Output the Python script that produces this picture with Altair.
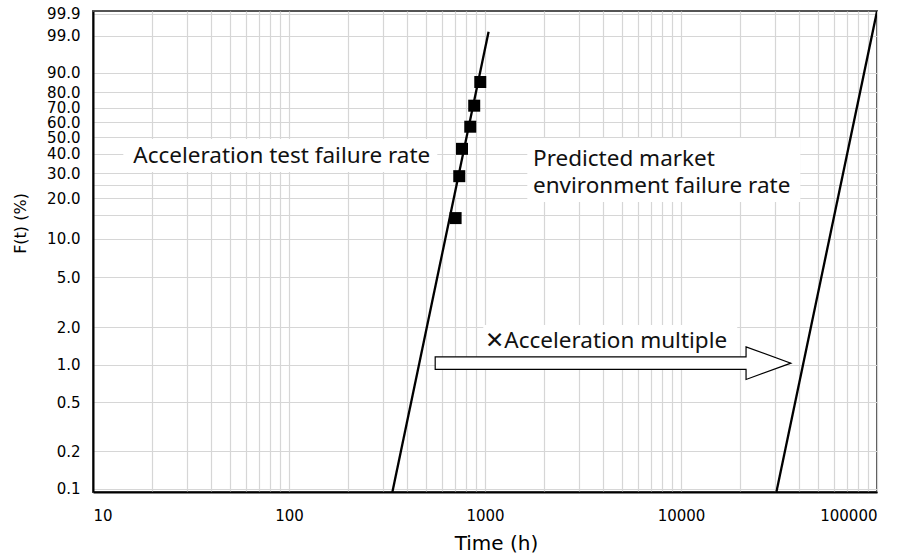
import altair as alt
import numpy as np
import pandas as pd

# Accelerated-test failures: hours to failure and median-rank cumulative failure (%)
test_hours = [708, 739, 763, 841, 881, 946]
test_cum_fail = [14.3, 28.6, 42.9, 57.1, 71.4, 85.7]

# Fitted Weibull lines, given by their end points (hours, cumulative %)
fit_series = ["test", "test", "market", "market"]
fit_hours = [335, 1043, 30500, 100000]
fit_cum_fail = [0.09, 99.3, 0.09, 99.93]

# Axis grid / labels
x_grid = [m * 10 ** k for k in range(1, 5) for m in range(1, 10)] + [100000]
x_labelled = [10, 100, 1000, 10000, 100000]
y_grid = [0.1, 0.2, 0.5, 1, 2, 5, 10, 15, 20, 25, 30, 40, 50, 60, 70, 80, 90, 99, 99.9]

# Annotation texts
note_text = ["Acceleration test failure rate", "Predicted market",
             "environment failure rate", "\u2715Acceleration multiple"]


def weibull_y(pct):
    """Weibull probability-paper ordinate: ln(-ln(1 - F))."""
    p = np.asarray(pct, dtype=float) / 100.0
    return np.log(-np.log(1.0 - p))


pts = pd.DataFrame({"hours": test_hours, "w": weibull_y(test_cum_fail)})
fits = pd.DataFrame({"series": fit_series, "hours": fit_hours,
                     "w": weibull_y(fit_cum_fail)})

# text anchors (hours, %)
notes = pd.DataFrame({
    "label": note_text,
    "hours": [16.05, 1758, 1758, 1003],
    "w": weibull_y([39.0, 37.3, 24.6, 1.55]),
})

# white panels behind the annotation texts (hours / % corners)
panels = pd.DataFrame({
    "hours": [14.28, 1644, 980],
    "hours2": [571, 40620, 19360],
    "w": weibull_y([49.0, 49.6, 2.085]),
    "w2": weibull_y([30.5, 18.8, 1.148]),
})

# arrow glyph centred on (hours, %)
arrow = pd.DataFrame({"hours": [4500], "w": weibull_y([1.03])})
arrow_path = ("M -1 -0.0354 L 0.748 -0.0354 L 0.748 -0.0917 L 1 0 "
              "L 0.748 0.0917 L 0.748 0.0354 L -1 0.0354 Z")

pct_expr = "100*(1-exp(-exp(datum.value)))"
y_label_expr = (f"(abs({pct_expr}-15)<0.05 || abs({pct_expr}-25)<0.05) ? '' : "
                f"format({pct_expr}, '.1f')")
x_label_expr = " || ".join(f"datum.value == {v}" for v in x_labelled) + \
    " ? format(datum.value, 'd') : ''"

x_enc = alt.X(
    "hours:Q",
    scale=alt.Scale(type="log", domain=[10, 100000], nice=False),
    axis=alt.Axis(
        values=x_grid, labelExpr=x_label_expr, labelOverlap=False,
        title="Time (h)", titleFont="DejaVu Sans", titleFontSize=20,
        titleFontWeight="normal", titleColor="black",
        titleX=403, titleY=51, titleBaseline="middle", titleAlign="center",
        labelFont="DejaVu Sans", labelFontSize=15, labelColor="black",
        labelPadding=16, ticks=False, tickSize=0,
        domainColor="black", domainWidth=2,
        grid=True, gridColor="#d6d6d6", gridWidth=1.2,
    ),
)
x2_enc = alt.X2("hours2:Q")

y_enc = alt.Y(
    "w:Q",
    scale=alt.Scale(domain=[-6.970, 1.988], nice=False, zero=False),
    axis=alt.Axis(
        values=[float(v) for v in weibull_y(y_grid)], labelExpr=y_label_expr,
        labelOverlap=False,
        title="F(t) (%)", titleFont="DejaVu Sans", titleFontSize=16,
        titleFontWeight="normal", titleColor="black",
        titleX=-73, titleY=212, titleBaseline="middle", titleAlign="center",
        titleAngle=270,
        labelFont="DejaVu Sans", labelFontSize=15, labelColor="black",
        labelPadding=13, ticks=False, tickSize=0,
        domainColor="black", domainWidth=2,
        grid=True, gridColor="#d6d6d6", gridWidth=1.2,
    ),
)
y2_enc = alt.Y2("w2:Q")

panel_layer = alt.Chart(panels).mark_rect(fill="white", stroke=None).encode(
    x=x_enc, x2=x2_enc, y=y_enc, y2=y2_enc)

line_layer = alt.Chart(fits).mark_line(
    color="black", strokeWidth=2.3, clip=True).encode(
    x=x_enc, y=y_enc, detail="series:N")

point_layer = alt.Chart(pts).mark_square(
    size=144, color="black", opacity=1, filled=True).encode(x=x_enc, y=y_enc)

text_layer = alt.Chart(notes).mark_text(
    align="left", baseline="middle", font="Noto Sans", fontSize=22.5,
    color="#111111").encode(x=x_enc, y=y_enc, text="label:N")

arrow_layer = alt.Chart(arrow).mark_point(
    shape=arrow_path, size=126500, filled=True, fill="white", stroke="black",
    strokeWidth=1.2, opacity=1, fillOpacity=1, strokeOpacity=1).encode(
    x=x_enc, y=y_enc)

chart = alt.layer(
    panel_layer, line_layer, point_layer, text_layer, arrow_layer
).properties(
    width=784, height=481,
    padding={"left": 93, "top": 11, "right": 25, "bottom": 64},
    autosize=alt.AutoSizeParams(type="none"),
    background="white",
).configure_view(
    stroke="#555555", strokeWidth=2,
)

chart.save("out.html", embed_options={"renderer": "svg", "actions": False})
